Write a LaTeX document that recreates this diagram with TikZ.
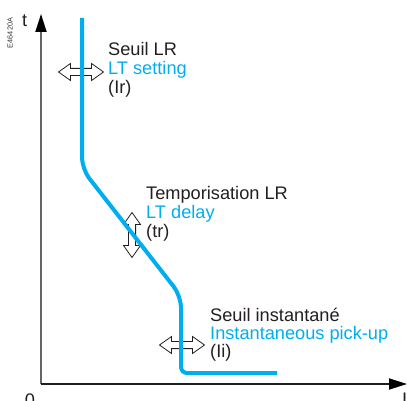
\documentclass[tikz,border=0pt]{standalone}
\usepackage{fontspec}
\setmainfont{Liberation Sans}
\usetikzlibrary{arrows.meta}
\definecolor{sblue}{HTML}{00AEEF}
\definecolor{sink}{HTML}{231F20}
\tikzset{
  lbl/.style={anchor=base west, inner sep=0pt, font=\fontsize{18.2}{18.5}\selectfont, text=sink},
  lblblue/.style={lbl, text=sblue},
  curve/.style={draw=sblue, line width=4pt, line join=miter},
  axisline/.style={line width=1.8pt},
  axtip/.style={-{Triangle[length=18pt,width=11pt,color=black,fill=black]}},
  dblarrow/.pic={
    \draw[fill=white, line width=0.8pt, line join=miter, draw=sink]
      (-22.5,0) -- (-10.5,8.5) -- (-10.5,3.6) -- (10.5,3.6) -- (10.5,8.5) -- (22.5,0)
      -- (10.5,-8.5) -- (10.5,-3.6) -- (-10.5,-3.6) -- (-10.5,-8.5) -- cycle;
  }
}
\begin{document}
\begin{tikzpicture}[x=1pt,y=-1pt]
\clip (0,0) rectangle (407,401);
\useasboundingbox (0,0) rectangle (407,401);
% axes
\coordinate (O) at (41,384);
\coordinate (ytop) at (41,14);
\coordinate (xend) at (407,384);
\draw[axisline, draw=black!60, axtip] (O) -- (ytop);
\draw[axisline, draw=black!88, axtip] (O) -- (xend);
\node[lbl, anchor=base west] (tlab) at (22,27) {t};
\node[lbl, anchor=base] (zero) at (30,406) {0};
\node[lbl, anchor=base west] (ilab) at (402,405) {I};
\node[inner sep=0pt, rotate=90, font=\fontsize{7.3}{8}\selectfont, text=black!80] (code) at (10,33) {E46420A};
% double arrows
\pic at (81,72) {dblarrow};
\pic[rotate=90] at (132,235) {dblarrow};
\pic at (182,345) {dblarrow};
% curve
\draw[curve] (82,18) [rounded corners=12pt] -- (82,169) -- (181,296) [rounded corners=6pt] -- (181,373) [sharp corners] -- (277,373);
% labels
\node[lbl] (s1) at (108,56) {Seuil LR};
\node[lblblue] (s2) at (108,75) {LT setting};
\node[lbl] (s3) at (108,94) {(Ir)};
\node[lbl] (t1) at (146,199) {Temporisation LR};
\node[lblblue] (t2) at (146,218) {LT delay};
\node[lbl] (t3) at (146,237) {(tr)};
\node[lbl] (i1) at (210,321) {Seuil instantané};
\node[lblblue] (i2) at (210,339) {Instantaneous pick-up};
\node[lbl] (i3) at (210,357) {(Ii)};
\end{tikzpicture}
\end{document}
